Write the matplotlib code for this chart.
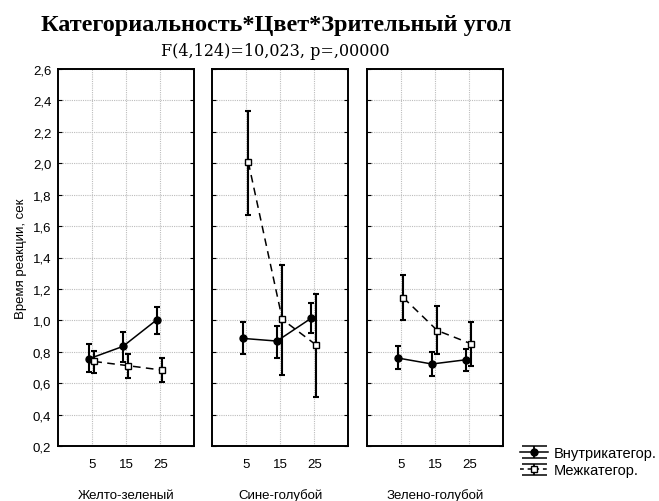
import numpy as np
import matplotlib
matplotlib.use("Agg")
import matplotlib.pyplot as plt
from matplotlib.ticker import FuncFormatter
from matplotlib.container import ErrorbarContainer
from matplotlib.legend_handler import HandlerErrorbar

# Data
angles = [5, 15, 25]
colors = ["Желто-зеленый", "Сине-голубой", "Зелено-голубой"]

within_mean = [[0.755, 0.834, 1.004], [0.885, 0.868, 1.012], [0.760, 0.722, 0.749]]
within_low = [[0.672, 0.736, 0.913], [0.785, 0.759, 0.918], [0.688, 0.645, 0.675]]
within_high = [[0.848, 0.923, 1.087], [0.987, 0.965, 1.110], [0.836, 0.800, 0.820]]

between_mean = [[0.738, 0.711, 0.683], [2.006, 1.006, 0.842], [1.144, 0.935, 0.850]]
between_low = [[0.664, 0.632, 0.609], [1.670, 0.651, 0.515], [1.000, 0.785, 0.710]]
between_high = [[0.806, 0.785, 0.758], [2.333, 1.352, 1.165], [1.286, 1.090, 0.990]]

plt.rcParams["font.family"] = ["Liberation Sans", "DejaVu Sans"]

fig = plt.figure(figsize=(6.59, 5.02), dpi=100)

lefts = [58.3, 212.3, 367.3]
bottom = 1 - 447 / 502
height = 377 / 502
width = 136 / 659

comma = FuncFormatter(lambda v, p: f"{v:.1f}".replace(".", ","))
dash = (0, (5, 3.5))

axes = []
for i, name in enumerate(colors):
    ax = fig.add_axes([lefts[i] / 659, bottom, width, height])
    axes.append(ax)
    x = np.array(angles, dtype=float)

    wm = np.array(within_mean[i])
    werr = [wm - np.array(within_low[i]), np.array(within_high[i]) - wm]
    ax.errorbar(x - 1.0, wm, yerr=werr, color="black", lw=1.1, marker="o",
                markersize=5, mfc="black", mec="black", capsize=2.5,
                elinewidth=1.5, capthick=1.5, ls="-", zorder=3)

    bm = np.array(between_mean[i])
    berr = [bm - np.array(between_low[i]), np.array(between_high[i]) - bm]
    ax.errorbar(x + 0.6, bm, yerr=berr, color="black", lw=1.1, marker="s",
                markersize=5, mfc="white", mec="black", capsize=2.5,
                elinewidth=1.5, capthick=1.5, ls=dash, zorder=4)

    ax.set_xlim(-5, 35)
    ax.set_ylim(0.2, 2.6)
    ax.set_xticks(angles)
    ax.set_yticks(np.arange(0.2, 2.61, 0.2))
    ax.yaxis.set_major_formatter(comma)
    ax.grid(True, color="#bdbdbd", ls=(0, (1, 1)), lw=0.8)
    ax.set_axisbelow(True)
    ax.tick_params(direction="in", top=True, right=True, length=3,
                   labelsize=9.5, pad=5)
    ax.tick_params(axis="x", length=0, pad=9)
    for s in ax.spines.values():
        s.set_linewidth(1.4)
    if i > 0:
        ax.tick_params(labelleft=False)
    ax.set_xlabel(name, fontsize=9.5, labelpad=13)

axes[0].set_ylabel("Время реакции, сек", fontsize=9.5, labelpad=4)

# legend proxies with wide caps, placed outside the visible range
lw_ = axes[2].errorbar([-100], [1], yerr=[0.1], color="black", lw=1.1,
                       marker="o", markersize=5, mfc="black", capsize=9,
                       elinewidth=1.3, capthick=1.1, ls="-",
                       label="Внутрикатегор.")
lb_ = axes[2].errorbar([-100], [1], yerr=[0.1], color="black", lw=1.1,
                       marker="s", markersize=5, mfc="white", capsize=9,
                       elinewidth=1.3, capthick=1.1, ls=(0, (2.5, 2.5)),
                       label="Межкатегор.")

fig.text(0.419, 1 - 31 / 502, "Категориальность*Цвет*Зрительный угол",
         ha="center", va="baseline", fontsize=17.5, fontweight="bold",
         family="Liberation Serif")
fig.text(0.418, 1 - 56.5 / 502, "F(4,124)=10,023, p=,00000",
         ha="center", va="baseline", fontsize=11.5, family="DejaVu Serif")

fig.legend([lw_, lb_], ["Внутрикатегор.", "Межкатегор."], loc="upper left",
           bbox_to_anchor=(514 / 659, 1 - 441 / 502), frameon=False,
           fontsize=10.5, handlelength=1.9, handletextpad=0.4,
           labelspacing=0.25, borderaxespad=0,
           handler_map={ErrorbarContainer: HandlerErrorbar(xerr_size=0.5, yerr_size=0.4)})

fig.savefig("out.png", dpi=100)
